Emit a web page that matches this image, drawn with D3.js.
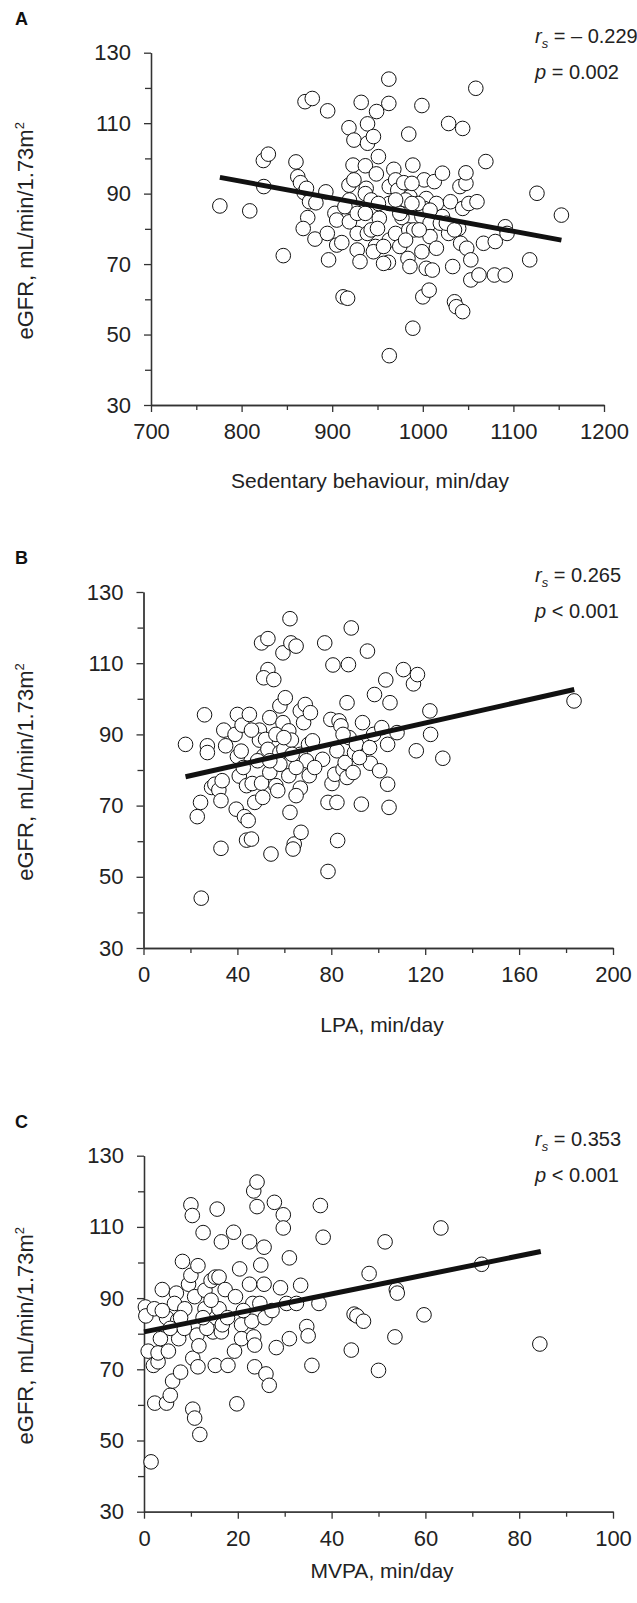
<!DOCTYPE html>
<html>
<head>
<meta charset="utf-8">
<script src="https://cdn.jsdelivr.net/npm/d3@7/dist/d3.min.js"></script>
<style>
  body { margin: 0; background: #fff; }
  svg { display: block; font-family: "Liberation Sans", Arial, sans-serif; }
  .tick text { fill: #222; }
</style>
</head>
<body>
<svg id="chart" width="637" height="1603"></svg>
<script>
// ---------- data

const EGFR_TICKS = [30, 50, 70, 90, 110, 130];

// A: sedentary behaviour (min/day) vs eGFR
const sedentary = [776, 809, 824, 829.5, 824.5, 846, 860, 862, 865, 869, 871.6, 870, 878, 873, 868, 875, 882, 893, 881, 895,
  894.6, 896, 903, 905, 905, 910.6, 912, 917, 918.5, 924, 918.5, 923, 924, 919, 923, 919, 927.6, 927.6, 930.7, 932,
  936.6, 937.5, 936.6, 938.8, 939, 939, 945.5, 949, 948.7, 951, 952, 947.8, 945.5, 943, 943, 962.5, 962.5, 963, 963, 963,
  962, 963, 968, 970, 972.4, 970, 974.6, 977, 979, 979, 984.5, 985.8, 984.5, 983.6, 985.8, 989, 989, 999, 999, 1000,
  1007, 1001.5, 1003.8, 1001.5, 999, 1008, 1008, 1003.8, 1010.5, 1015, 1012.7, 1015, 1021.7, 1021.7, 1019.4, 1028.5, 1030.6, 1028.5, 1033, 1035,
  1037, 1044, 1044, 1041, 1047.6, 1047.6, 1044, 1050.8, 1039.6, 1041.8, 1048.5, 1053, 1053, 1062, 1059.8, 1058.5, 1069.6, 1067, 1080, 1079,
  1091, 1091, 1093, 1118, 1126, 1153, 951, 974.6, 981, 990, 996, 956.7, 970, 994.8, 914, 927.6, 936.6, 988, 988, 1026,
  1008, 981, 950, 956.7, 1035];
const egfrA = [86.5, 85.1, 99.4, 101.2, 92, 72.4, 99, 94.8, 93.1, 90.3, 91.5, 116.1, 117, 83.2, 80.1, 87.7, 87.4, 90.5, 77.1, 113.5,
  78.7, 71.2, 84.4, 82.5, 75.4, 76.1, 60.7, 60.3, 108.7, 105.2, 92.4, 98.1, 93.9, 88.2, 85.8, 82, 78.7, 74, 70.7, 115.9,
  97.9, 91.5, 90, 78.7, 109.8, 104.3, 106.2, 113.3, 95.6, 100.5, 83, 75, 73.5, 79.7, 88.2, 122.5, 115.6, 92, 87.2, 76.8,
  70.5, 44, 96.9, 93.9, 91, 78.7, 75, 83.2, 93.1, 85.8, 106.9, 89.1, 79.7, 71.6, 69.3, 98.1, 51.8, 115, 73.5, 60.7,
  62.6, 93.9, 88.6, 85.8, 83.5, 81.6, 77.8, 68.8, 68.3, 74.5, 93.4, 87.2, 95.8, 83.5, 81.6, 109.9, 87.7, 78.7, 69.3, 59.3,
  57.9, 56.5, 108.5, 92, 92.9, 95.9, 85.8, 87.2, 80.1, 75.9, 74.5, 71.2, 65.5, 66.9, 87.7, 119.9, 99.1, 75.9, 76.4, 66.9,
  66.9, 80.6, 78.7, 71.2, 90.1, 83.9, 87.2, 84.4, 88.2, 79.7, 79.7, 70.2, 88.2, 87.2, 86.3, 84.4, 84.4, 92.9, 87.2, 81.6,
  85.3, 76.8, 80.1, 75, 79.7];
const fitA = { x: [776, 1153], y: [94.6, 76.8] };

// B: LPA (min/day) vs eGFR
const lpa = [17.9, 26, 27.2, 27.2, 22.9, 24.3, 24.6, 29, 30.4, 32.1, 33, 33.5, 33, 34.2, 35, 40, 39, 40, 40.8, 39.5,
  41.6, 42, 45.1, 43, 44.6, 43.9, 46, 43.9, 46.3, 47.4, 49.4, 49.4, 50.3, 50.3, 53, 53, 51.2, 55.5, 52, 51.2,
  53, 50.8, 53.8, 53.8, 54.3, 56.4, 57.2, 59.4, 58.1, 60.4, 59.4, 58.1, 59.8, 62.4, 62.8, 65, 61.9, 63, 61.6, 61.9,
  62.4, 64.2, 63.7, 66.8, 68.2, 68.9, 71.1, 66.8, 70.3, 69.4, 70.6, 66.8, 65, 67.1, 76.3, 77.2, 78.6, 78.6, 82.4, 82.7,
  79.8, 80.7, 80.3, 81.5, 83.3, 84.1, 82.4, 85, 85.9, 86.7, 87.3, 88.5, 87.6, 86.7, 89.3, 89.9, 90.7, 93.3, 92.8, 95.4,
  96.6, 98, 98.4, 100.6, 101.5, 103.2, 105, 104, 104, 104.6, 108, 110.7, 115, 116.7, 116.2, 122, 122.3, 127.5, 183.4, 46,
  56.4, 59.8, 58.1, 65, 72.9, 72, 48.6, 42.5, 53.8, 63.3, 85, 92, 96.3];
const egfrB = [87.2, 95.5, 86.8, 84.9, 66.9, 70.9, 44, 75.1, 76, 74.4, 71.4, 77, 58, 91.2, 86.8, 95.6, 90, 83.8, 78.3, 69,
  85.3, 92.6, 95.6, 66.9, 65.8, 60.3, 60.6, 75.6, 76.2, 70.9, 91.2, 88.4, 76.3, 115.7, 116.9, 108.2, 105.9, 105.4, 88.6, 84,
  85.8, 72.3, 94.7, 79.3, 56.4, 75.6, 74.2, 112.9, 98, 100.3, 93.3, 84.9, 85.8, 122.5, 115.7, 114.8, 91, 88.4, 81.6, 78.4,
  68.1, 59.2, 57.8, 96.6, 93.3, 98.4, 96.1, 84.4, 87.2, 82.6, 78.4, 74.9, 72.8, 62.5, 83, 115.7, 51.5, 70.9, 70.9, 60.2,
  94.2, 109.5, 76.2, 78.8, 93.8, 92.4, 85.4, 80.2, 82.1, 98.9, 109.6, 119.9, 89.1, 77.9, 79.3, 84.9, 87.2, 93.3, 70.4, 113.4,
  81.9, 90, 101.2, 79.8, 91.9, 105.3, 98.9, 87.2, 76, 69.5, 90.5, 108.2, 104.2, 106.8, 85.4, 96.6, 90, 83.3, 99.4, 91.2,
  90, 89.1, 81.6, 80.7, 80.7, 88.2, 82.6, 80.7, 82.6, 84.4, 90, 83.5, 86.3];
const fitB = { x: [17.9, 183.5], y: [78.1, 102.6] };

// C: MVPA (min/day) vs eGFR
const mvpa = [1.5, 0.3, 0.4, 0.9, 2, 3, 2.3, 4.8, 5.6, 2.2, 3, 3.5, 3.9, 4.8, 5.2, 6.1, 6.9, 6.5, 7.2, 7.4,
  7.8, 8.2, 8.7, 10, 10.3, 9.5, 10, 10.4, 10.8, 10.4, 10.8, 11.3, 11.7, 11.5, 11.5, 10.8, 11.9, 12.6, 13, 13,
  14.3, 15.2, 14.7, 15.2, 15.6, 16, 16, 16.5, 16.7, 16.5, 17.3, 17.9, 19.1, 19.3, 19.8, 20.4, 20.8, 20.8, 22.5, 22.5,
  23, 23.2, 23.4, 23.4, 24.1, 24.1, 23.6, 23.6, 24.9, 25.6, 25.6, 25.8, 26, 26.7, 27.8, 28.2, 29.1, 29.7, 29.7, 30.4,
  31, 31, 32.5, 33.4, 34.7, 35, 35.8, 37.3, 37.6, 38.2, 44.2, 44.8, 45.4, 46.8, 48, 50, 51.4, 53.5, 53.8, 54,
  59.7, 63.3, 72, 84.4, 5.6, 3.9, 8.6, 13.4, 17.8, 21.2, 24.7, 19.5, 12.6, 7.8, 14.3, 27.3];
const egfrC = [44, 87.5, 85, 75.1, 71.1, 72.1, 60.5, 60.5, 62.7, 87, 74.6, 78.6, 92.4, 84.5, 75.1, 66.7, 91.4, 88.5, 83.8, 78.6,
  69.2, 100.3, 87, 116.2, 113.2, 93.9, 96.4, 58.8, 56.3, 73.1, 81.5, 79.6, 76.6, 70.7, 99.1, 90.4, 51.7, 108.4, 92.2, 87,
  94.9, 95.9, 80.5, 71.1, 115, 95.9, 87, 80.5, 82.5, 105.8, 92.4, 71.1, 108.5, 75.1, 60.3, 98.2, 82.5, 78.6, 93.9, 105.8,
  83.5, 88.5, 79.1, 120.1, 122.6, 115.7, 70.7, 76.8, 99.3, 104.3, 93.9, 84.5, 68.7, 65.5, 116.9, 76.1, 92.9, 113.4, 109.7, 88.5,
  101.3, 78.6, 88.5, 93.6, 82, 79.4, 71.1, 88.5, 116, 107.1, 75.4, 85.5, 85, 83.5, 96.9, 69.7, 105.8, 79.1, 92.4, 91.4,
  85.3, 109.7, 99.5, 77.1, 81.5, 86.5, 81.5, 81.5, 84.5, 86.5, 88.5, 90.4, 84.5, 84.5, 89.4, 86.5];
const fitC = { x: [0, 84.6], y: [80.5, 103.1] };

// ---------- layout per panel

const panels = [
  { letter: "A", x: sedentary, y: egfrA, fit: fitA, xDomain: [700, 1200], xStep: 100, xMinor: 50,
    left: 151, right: 604, top: 52.7, bottom: 405, title: "Sedentary behaviour, min/day", titleX: 370, titleY: 488,
    rs: "\u2013 0.229", p: "= 0.002" },
  { letter: "B", x: lpa, y: egfrB, fit: fitB, xDomain: [0, 200], xStep: 40, xMinor: 20,
    left: 143.5, right: 613, top: 592, bottom: 948, title: "LPA, min/day", titleX: 382, titleY: 1032,
    rs: "0.265", p: "< 0.001" },
  { letter: "C", x: mvpa, y: egfrC, fit: fitC, xDomain: [0, 100], xStep: 20, xMinor: 10,
    left: 144, right: 613, top: 1155.7, bottom: 1511.7, title: "MVPA, min/day", titleX: 382, titleY: 1578,
    rs: "0.353", p: "< 0.001" },
];

const AXIS_COLOR = "#333";
const svg = d3.select("#chart");

function drawPanel(cfg) {
  const g = svg.append("g");
  const x = d3.scaleLinear().domain(cfg.xDomain).range([cfg.left, cfg.right]);
  const y = d3.scaleLinear().domain([30, 130]).range([cfg.bottom, cfg.top]);

  const xMajor = d3.range(cfg.xDomain[0], cfg.xDomain[1] + 0.1, cfg.xStep);
  const xMinor = d3.range(cfg.xDomain[0], cfg.xDomain[1] + 0.1, cfg.xMinor).filter((v) => !xMajor.includes(v));
  const yMinor = d3.range(40, 130, 20);

  // minor ticks first, no labels
  g.append("g")
    .attr("transform", `translate(0,${cfg.bottom})`)
    .call(d3.axisBottom(x).tickValues(xMinor).tickSize(5).tickSizeOuter(0).tickFormat(""));
  g.append("g")
    .attr("transform", `translate(${cfg.left},0)`)
    .call(d3.axisLeft(y).tickValues(yMinor).tickSize(6).tickSizeOuter(0).tickFormat(""));

  const xAxis = g.append("g")
    .attr("transform", `translate(0,${cfg.bottom})`)
    .call(d3.axisBottom(x).tickValues(xMajor).tickSize(7).tickSizeOuter(0).tickPadding(10).tickFormat(d3.format("d")));
  const yAxis = g.append("g")
    .attr("transform", `translate(${cfg.left},0)`)
    .call(d3.axisLeft(y).tickValues(EGFR_TICKS).tickSize(7).tickSizeOuter(0).tickPadding(13));

  g.selectAll(".domain, .tick line").attr("stroke", AXIS_COLOR).attr("stroke-width", 1.3);
  xAxis.selectAll("text").style("font-size", "22px").attr("dy", "0.78em");
  yAxis.selectAll("text").style("font-size", "22px");

  // points
  const pts = cfg.x.map((v, i) => [v, cfg.y[i]]);
  g.append("g")
    .selectAll("circle")
    .data(pts)
    .enter()
    .append("circle")
    .attr("cx", (d) => x(d[0]))
    .attr("cy", (d) => y(d[1]))
    .attr("r", 7.3)
    .attr("fill", "#fff")
    .attr("stroke", "#111")
    .attr("stroke-width", 1);

  // regression line on top
  const line = d3.line().x((d) => x(d[0])).y((d) => y(d[1]));
  g.append("path")
    .datum(cfg.fit.x.map((v, i) => [v, cfg.fit.y[i]]))
    .attr("d", line)
    .attr("stroke", "#111")
    .attr("stroke-width", 5)
    .attr("fill", "none");

  // panel letter
  g.append("text")
    .attr("x", 15)
    .attr("y", cfg.top - 28)
    .attr("font-weight", "bold")
    .style("font-size", "18px")
    .attr("fill", "#111")
    .text(cfg.letter);

  // stats
  const rs = g.append("text").attr("x", 535).attr("y", cfg.top - 10).style("font-size", "20px").attr("fill", "#222");
  rs.append("tspan").attr("font-style", "italic").text("r");
  rs.append("tspan").attr("font-style", "italic").style("font-size", "13px").attr("dy", 5).text("s");
  rs.append("tspan").attr("dy", -5).text(" = " + cfg.rs);

  const pp = g.append("text").attr("x", 535).attr("y", cfg.top + 26).style("font-size", "20px").attr("fill", "#222");
  pp.append("tspan").attr("font-style", "italic").text("p");
  pp.append("tspan").text(" " + cfg.p);

  // axis titles
  g.append("text")
    .attr("x", cfg.titleX)
    .attr("y", cfg.titleY)
    .attr("text-anchor", "middle")
    .style("font-size", "21px")
    .attr("fill", "#222")
    .text(cfg.title);

  const midY = (cfg.top + cfg.bottom) / 2;
  const yt = g.append("text")
    .attr("transform", `translate(33,${midY + 2}) rotate(-90)`)
    .attr("text-anchor", "middle")
    .style("font-size", "22px")
    .attr("fill", "#222");
  yt.append("tspan").text("eGFR, mL/min/1.73m");
  yt.append("tspan").style("font-size", "13px").attr("dy", -9).text("2");
}

panels.forEach(drawPanel);
</script>
</body>
</html>
